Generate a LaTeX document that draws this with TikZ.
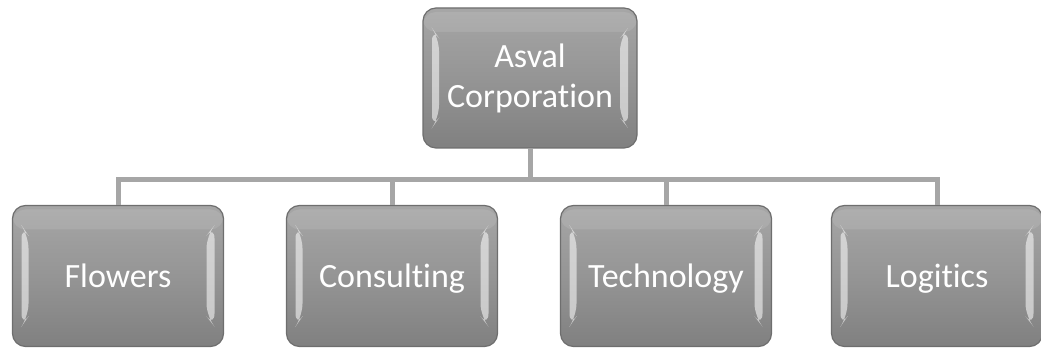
\documentclass[tikz,border=0pt]{standalone}
\usepackage{fontspec}
\setmainfont{Carlito}[Ligatures={NoCommon}]
\usetikzlibrary{calc}
\definecolor{boxtop}{HTML}{A6A6A6}
\definecolor{boxbot}{HTML}{808080}
\definecolor{boxedge}{HTML}{6E6E6E}
\definecolor{linkgray}{HTML}{A6A6A6}
\tikzset{
  orgbox/.style={
    draw=boxedge, line width=1.2pt, rounded corners=13pt,
    top color=boxtop, bottom color=boxbot, middle color=boxtop!55!boxbot,
    minimum width=211pt, minimum height=141pt,
    text=white, font=\fontsize{34}{40}\selectfont,
    path picture={
      \fill[white,opacity=0.55]
        ($(path picture bounding box.north west)+(9pt,-20pt)$) --
        ($(path picture bounding box.north west)+(16pt,-30pt)$) --
        ($(path picture bounding box.south west)+(16pt,30pt)$) --
        ($(path picture bounding box.south west)+(9pt,20pt)$) -- cycle;
      \fill[white,opacity=0.55]
        ($(path picture bounding box.north east)+(-9pt,-20pt)$) --
        ($(path picture bounding box.north east)+(-17pt,-30pt)$) --
        ($(path picture bounding box.south east)+(-17pt,30pt)$) --
        ($(path picture bounding box.south east)+(-9pt,20pt)$) -- cycle;
      \fill[white,opacity=0.10]
        ($(path picture bounding box.north west)+(0,-4pt)$) rectangle
        ($(path picture bounding box.north east)+(0,-24pt)$);
    }
  },
  childbox/.style={orgbox, text height=23pt, text depth=0pt},
  link/.style={draw=linkgray, line width=5pt}
}
\begin{document}
\begin{tikzpicture}[x=1pt,y=1pt]
\useasboundingbox (0,0) rectangle (1041,350);
\node[orgbox, align=center, minimum width=214pt, minimum height=140pt] (root) at (530,272) {Asval\\Corporation};
\node[childbox] (c1) at (118,74) {Flowers};
\node[childbox] (c2) at (392,74) {Consulting};
\node[childbox] (c3) at (666,74) {Technology};
\node[childbox] (c4) at (937,74) {Logitics};
\coordinate (bus) at (530,170);
\draw[link] (root.south) -- (bus);
\draw[link] (bus) -| (c1.north);
\draw[link] (bus) -| (c2.north);
\draw[link] (bus) -| (c3.north);
\draw[link] (bus) -| (c4.north);
\end{tikzpicture}
\end{document}
